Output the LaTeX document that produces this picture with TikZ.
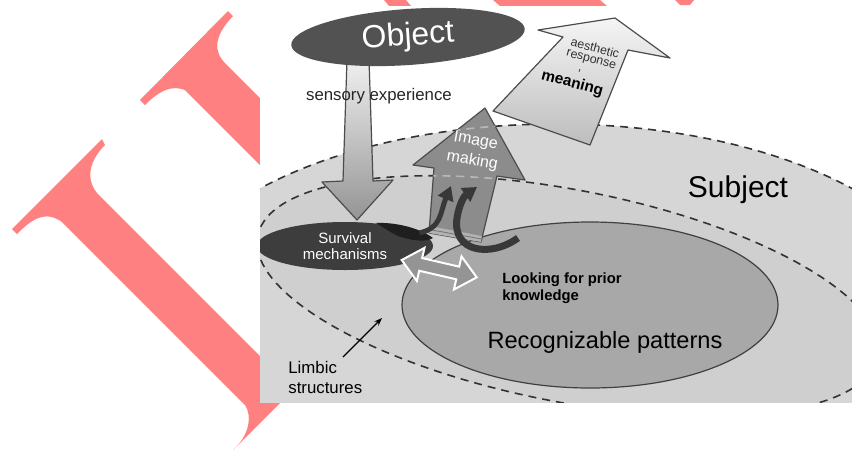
\documentclass[tikz,border=0pt]{standalone}
\usepackage{fontspec}
\setmainfont{Liberation Sans}
\usetikzlibrary{shapes.geometric,arrows.meta}

\tikzset{
  mark red/.style={fill=red!50, draw=none},
  zone/.style={draw=black!80, line width=0.8pt, dash pattern=on 4pt off 3pt},
  blob/.style={ellipse, draw=none, inner sep=0pt, text=white},
  block arrow/.style={draw=black!70, line width=0.6pt, line join=round},
  swirl/.style={draw=black!78, line width=3pt, -{Triangle[length=7pt,width=8pt]}},
}

\begin{document}
\begin{tikzpicture}[x=0.5pt,y=-0.5pt]
\useasboundingbox (0,0) rectangle (852,451);

% watermark letters
\fill[mark red] (228,11) -- (140,100) -- (145,105) .. controls (160,90) and (172,85) .. (185,90)
  -- (400,305) -- (467,305) -- (228,66) .. controls (212,52) and (214,36) .. (233,16) -- cycle;
\fill[mark red] (102,139) -- (12,229) -- (17,234) .. controls (32,219) and (45,210) .. (62,222)
  -- (245,405) .. controls (252,415) and (250,435) .. (233,450) -- (430,253) -- (400,230)
  -- (267,363) -- (97,193) .. controls (85,178) and (90,160) .. (105,145) -- cycle;
\fill[mark red] (384,0) -- (406,0) -- (411,6) -- (389,6) -- cycle;
\fill[mark red] (493,0) -- (600,0) -- (607,6) -- (500,6) -- cycle;
\fill[mark red] (675,0) -- (694,0) -- (690,5) -- (680,5) -- cycle;

\fill[white] (260,6) rectangle (852,402);
\begin{scope}
\clip (260,6) rectangle (852,402);

% subject and limbic zones
\path[fill=black!16] (556,321) ellipse [x radius=400, y radius=197];
\path[fill=black!19, rotate around={-11:(568,296)}] (568,296) ellipse [x radius=316, y radius=106];
\draw[zone] (556,321) ellipse [x radius=400, y radius=197];
\draw[zone, rotate around={-11:(568,296)}] (568,296) ellipse [x radius=316, y radius=106];

\node[ellipse, draw=black!75, line width=0.6pt, fill=black!34, minimum width=188pt, minimum height=83pt] (patterns) at (590,305) {};

% sensory experience
\draw[block arrow, top color=black!6, bottom color=black!42] (347,60) -- (369,60) -- (373,181) -- (393,180)
  -- (357,220) -- (322,182) -- (343,181) -- cycle;

\node[blob, fill=black!76, minimum width=88pt, minimum height=24pt, align=center,
  font=\fontsize{7.5}{8}\selectfont] (survival) at (345,246) {Survival\\mechanisms};
\fill[black!88] (376,223) .. controls (395,222) and (420,228) .. (433,238)
  .. controls (425,243) and (410,240) .. (398,236) .. controls (390,232) and (384,228) .. (376,223) -- cycle;

% image making
\draw[block arrow, fill=black!45] (485,108) -- (525,180) -- (497,176) -- (481,242) -- (429,233)
  -- (434,168) -- (413,165) -- cycle;
\begin{scope}
  \clip (485,108) -- (525,180) -- (497,176) -- (481,242) -- (429,233) -- (434,168) -- (413,165) -- cycle;
  \draw[zone, draw=black!28] (556,321) ellipse [x radius=400, y radius=197];
  \draw[zone, draw=black!28, rotate around={-11:(568,296)}] (568,296) ellipse [x radius=316, y radius=106];
\end{scope}
\fill[black!30] (429.4,226) -- (481.8,236) -- (481,242) -- (429,233) -- cycle;
\draw[black!55, line width=0.4pt] (429.2,229.5) -- (481.4,239);

% aesthetic response
\draw[block arrow, top color=black!4, bottom color=black!26] (615,18) -- (670,58) -- (628,50) -- (590,145)
  -- (493,111) -- (563,37) -- (538,30) -- cycle;

\draw[swirl, line width=2.5pt] (survival.10) .. controls (442,228) and (440,212) .. (451,186);
\coordinate (swirl tail) at (518,238);
\draw[swirl, line width=3.5pt] (swirl tail) .. controls (490,258) and (452,252) .. (457,218)
  .. controls (459,205) and (464,196) .. (477,187);

% prior knowledge
\begin{scope}[shift={(439.2,268.7)}, rotate=-13]
  \draw[fill=black!42, draw=white, line width=1pt, line join=miter] (-38.5,0) -- (-19,-17) -- (-19,-6.5)
    -- (19,-6.5) -- (19,-17) -- (38.5,0) -- (19,17) -- (19,6.5) -- (-19,6.5) -- (-19,17) -- cycle;
\end{scope}

\node[blob, fill=black!68, minimum width=117pt, minimum height=28pt, rotate=4,
  font=\fontsize{16}{19}\selectfont] (object) at (408,37) {Object};

\node[font=\fontsize{8.4}{10}\selectfont, text=black!85, anchor=base] (sensory) at (379,100) {sensory experience};
\node[font=\fontsize{8}{10}\selectfont, text=white, align=center, rotate=-10] (imaging) at (474,151) {Image\\making};
\node[font=\fontsize{6.2}{5.6}\selectfont, text=black!80, align=right, inner sep=0pt, rotate=-15]
  (aesthetic) at (580,66) {aesthetic\\response\\,\kern16pt\\[1.5pt]
  {\color{black}\bfseries\fontsize{7.7}{7}\selectfont meaning\kern3pt}};
\node[font=\fontsize{15}{18}\selectfont, anchor=base] (subject) at (738,197) {Subject};
\node[font=\fontsize{11.8}{14}\selectfont, anchor=base] (patterns label) at (605,348) {Recognizable patterns};
\node[font=\bfseries\fontsize{7.4}{8.3}\selectfont, align=left, anchor=north west, inner sep=0pt]
  (looking) at (502,272.5) {Looking for prior\\knowledge};
\node[font=\fontsize{8.4}{10}\selectfont, align=left, anchor=north west, inner sep=0pt]
  (limbic) at (288,361) {Limbic\\structures};

\coordinate (limbic tail) at (343,357);
\coordinate (limbic head) at (382,318);
\draw[-{Stealth[length=4pt]}, line width=0.6pt] (limbic tail) -- (limbic head);
\end{scope}
\end{tikzpicture}
\end{document}
